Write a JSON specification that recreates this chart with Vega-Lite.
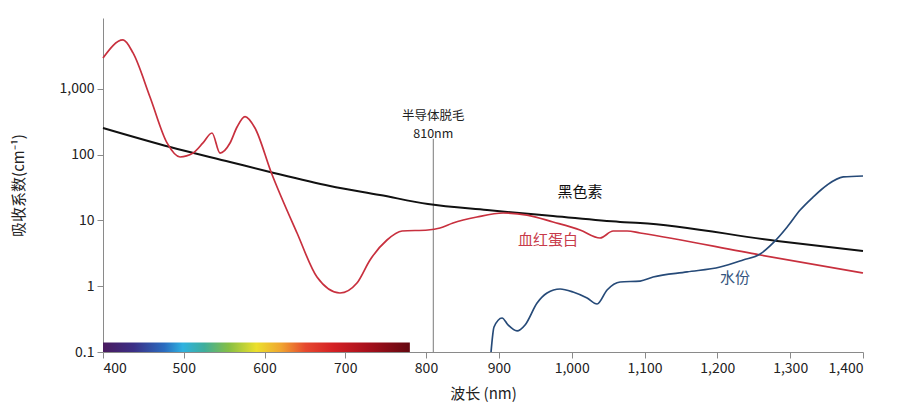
{
  "$schema": "https://vega.github.io/schema/vega-lite/v6.json",
  "width": 760,
  "height": 334,
  "autosize": {"type": "none"},
  "padding": {"left": 103, "top": 18, "right": 37, "bottom": 63},
  "background": "white",
  "config": {
    "view": {"stroke": null},
    "font": "Noto Sans CJK SC",
    "axis": {
      "grid": false,
      "domainColor": "#8a8a8a",
      "tickColor": "#8a8a8a",
      "labelColor": "#222222",
      "titleColor": "#222222",
      "labelFont": "Noto Sans CJK SC",
      "titleFont": "Noto Sans CJK SC",
      "labelFontSize": 14,
      "titleFontSize": 15,
      "titleFontWeight": "normal",
      "tickSize": 6,
      "labelPadding": 3
    }
  },
  "datasets": {
    "hemoglobin": [
      {"nm": 400, "v": 2960}, {"nm": 424.8, "v": 5560}, {"nm": 437.2, "v": 3530},
      {"nm": 458.2, "v": 755}, {"nm": 479.3, "v": 151}, {"nm": 495.4, "v": 92.4},
      {"nm": 511.5, "v": 106}, {"nm": 523.8, "v": 151}, {"nm": 535, "v": 214},
      {"nm": 544.9, "v": 106}, {"nm": 557.3, "v": 151}, {"nm": 566, "v": 264},
      {"nm": 575.9, "v": 380}, {"nm": 588.2, "v": 255}, {"nm": 608.1, "v": 54.7},
      {"nm": 640.3, "v": 6.45}, {"nm": 665, "v": 1.38}, {"nm": 693.5, "v": 0.789},
      {"nm": 714.5, "v": 1.12}, {"nm": 730.7, "v": 2.51}, {"nm": 751.7, "v": 5.05},
      {"nm": 770.3, "v": 6.92}, {"nm": 802.7, "v": 7.17}, {"nm": 819.2, "v": 7.69},
      {"nm": 837.1, "v": 9.16}, {"nm": 870, "v": 11.3}, {"nm": 905.8, "v": 13.0},
      {"nm": 938.7, "v": 12.1}, {"nm": 974.4, "v": 9.49}, {"nm": 1011.5, "v": 7.17},
      {"nm": 1039, "v": 5.42}, {"nm": 1056.9, "v": 6.92}, {"nm": 1076.1, "v": 6.92},
      {"nm": 1094, "v": 6.45}, {"nm": 1258.8, "v": 2.99}, {"nm": 1400, "v": 1.59}
    ],
    "melanin": [
      {"nm": 400, "v": 255}, {"nm": 483, "v": 131}, {"nm": 557.3, "v": 77.6},
      {"nm": 606.8, "v": 54.7}, {"nm": 681.1, "v": 33.5}, {"nm": 743, "v": 24.4},
      {"nm": 802.7, "v": 17.8}, {"nm": 883.8, "v": 14.4}, {"nm": 974.4, "v": 11.7},
      {"nm": 1066.5, "v": 9.49}, {"nm": 1094, "v": 9.16}, {"nm": 1282.1, "v": 4.88},
      {"nm": 1400, "v": 3.44}
    ],
    "water": [
      {"nm": 889.3, "v": 0.1}, {"nm": 893.4, "v": 0.24}, {"nm": 904.4, "v": 0.329},
      {"nm": 912.6, "v": 0.258}, {"nm": 925, "v": 0.209}, {"nm": 936, "v": 0.258},
      {"nm": 952.5, "v": 0.556}, {"nm": 966.2, "v": 0.789}, {"nm": 984.1, "v": 0.908},
      {"nm": 1001.9, "v": 0.818}, {"nm": 1021.2, "v": 0.662}, {"nm": 1034.9, "v": 0.537},
      {"nm": 1048.6, "v": 0.877}, {"nm": 1066.5, "v": 1.16}, {"nm": 1094, "v": 1.2},
      {"nm": 1111.8, "v": 1.38}, {"nm": 1158.5, "v": 1.65}, {"nm": 1203.8, "v": 1.96},
      {"nm": 1235.4, "v": 2.51}, {"nm": 1258.8, "v": 3.09}, {"nm": 1276.6, "v": 4.55},
      {"nm": 1295.9, "v": 7.96}, {"nm": 1313.7, "v": 14.4}, {"nm": 1331.6, "v": 22.8},
      {"nm": 1350.8, "v": 34.7}, {"nm": 1372.8, "v": 45.9}, {"nm": 1400, "v": 47.5}
    ],
    "labels": [
      {"nm": 1011.5, "v": 27.1, "text": "黑色素", "series": "melanin"},
      {"nm": 967.6, "v": 5.05, "text": "血红蛋白", "series": "hemoglobin"},
      {"nm": 1224.4, "v": 1.33, "text": "水份", "series": "water"}
    ],
    "annotation": [
      {"nm": 810, "v": 390, "text": "半导体脱毛"},
      {"nm": 810, "v": 205, "text": "810nm"}
    ],
    "spectrum": [
      {"nm0": 400, "nm1": 780, "v0": 0.1, "v1": 0.14}
    ],
    "laser": [
      {"nm": 810, "v0": 0.1, "v1": 175}
    ]
  },
  "layer": [
    {
      "data": {"name": "spectrum"},
      "mark": {
        "type": "rect",
        "fill": {
          "gradient": "linear", "x1": 0, "y1": 0, "x2": 1, "y2": 0,
          "stops": [
            {"offset": 0, "color": "#4a1a5e"},
            {"offset": 0.1, "color": "#3b2f86"},
            {"offset": 0.2, "color": "#2a6cc0"},
            {"offset": 0.26, "color": "#2fb2e0"},
            {"offset": 0.33, "color": "#3fae9c"},
            {"offset": 0.41, "color": "#86bf44"},
            {"offset": 0.5, "color": "#ece02c"},
            {"offset": 0.58, "color": "#f0a530"},
            {"offset": 0.66, "color": "#e6482e"},
            {"offset": 0.75, "color": "#d42024"},
            {"offset": 0.86, "color": "#a8101c"},
            {"offset": 1, "color": "#640810"}
          ]
        }
      },
      "encoding": {
        "x": {
          "field": "nm0", "type": "quantitative",
          "scale": {"type": "linear", "domain": [400, 800, 1400], "range": [0, 323, 760], "zero": false, "nice": false},
          "axis": {
            "values": [400, 500, 600, 700, 800, 900, 1000, 1100, 1200, 1300, 1400],
            "format": ",.0f",
            "title": "波长 (nm)",
            "titleY": 41,
            "titleBaseline": "middle"
          }
        },
        "x2": {"field": "nm1"},
        "y": {
          "field": "v0", "type": "quantitative",
          "scale": {"type": "log", "domain": [0.1, 12000], "nice": false},
          "axis": {
            "values": [0.1, 1, 10, 100, 1000],
            "format": ",",
            "title": "吸收系数(cm⁻¹)",
            "titleX": -85,
            "titleY": 167,
            "titleBaseline": "middle",
            "titleAngle": -90
          }
        },
        "y2": {"field": "v1"}
      }
    },
    {
      "mark": {"type": "rule", "color": "#8a8a8a", "strokeWidth": 1},
      "encoding": {"x": {"datum": 1400}}
    },
    {
      "data": {"name": "laser"},
      "mark": {"type": "rule", "color": "#7a7a7a", "strokeWidth": 1},
      "encoding": {
        "x": {"field": "nm", "type": "quantitative"},
        "y": {"field": "v0", "type": "quantitative"},
        "y2": {"field": "v1"}
      }
    },
    {
      "data": {"name": "melanin"},
      "mark": {"type": "line", "color": "#111111", "strokeWidth": 2, "interpolate": "monotone"},
      "encoding": {
        "x": {"field": "nm", "type": "quantitative"},
        "y": {"field": "v", "type": "quantitative"}
      }
    },
    {
      "data": {"name": "hemoglobin"},
      "mark": {"type": "line", "color": "#c8303e", "strokeWidth": 1.7, "interpolate": "monotone"},
      "encoding": {
        "x": {"field": "nm", "type": "quantitative"},
        "y": {"field": "v", "type": "quantitative"}
      }
    },
    {
      "data": {"name": "water"},
      "mark": {"type": "line", "color": "#264a78", "strokeWidth": 1.7, "interpolate": "monotone"},
      "encoding": {
        "x": {"field": "nm", "type": "quantitative"},
        "y": {"field": "v", "type": "quantitative"}
      }
    },
    {
      "data": {"name": "labels"},
      "mark": {"type": "text", "fontSize": 15, "font": "Noto Sans CJK SC", "align": "center", "baseline": "middle"},
      "encoding": {
        "x": {"field": "nm", "type": "quantitative"},
        "y": {"field": "v", "type": "quantitative"},
        "text": {"field": "text"},
        "color": {
          "field": "series", "type": "nominal",
          "scale": {"domain": ["melanin", "hemoglobin", "water"], "range": ["#111111", "#c83a4a", "#35557e"]},
          "legend": null
        }
      }
    },
    {
      "data": {"name": "annotation"},
      "mark": {"type": "text", "fontSize": 12.5, "font": "Noto Sans CJK SC", "align": "center", "baseline": "middle", "color": "#222222"},
      "encoding": {
        "x": {"field": "nm", "type": "quantitative"},
        "y": {"field": "v", "type": "quantitative"},
        "text": {"field": "text"}
      }
    }
  ]
}
